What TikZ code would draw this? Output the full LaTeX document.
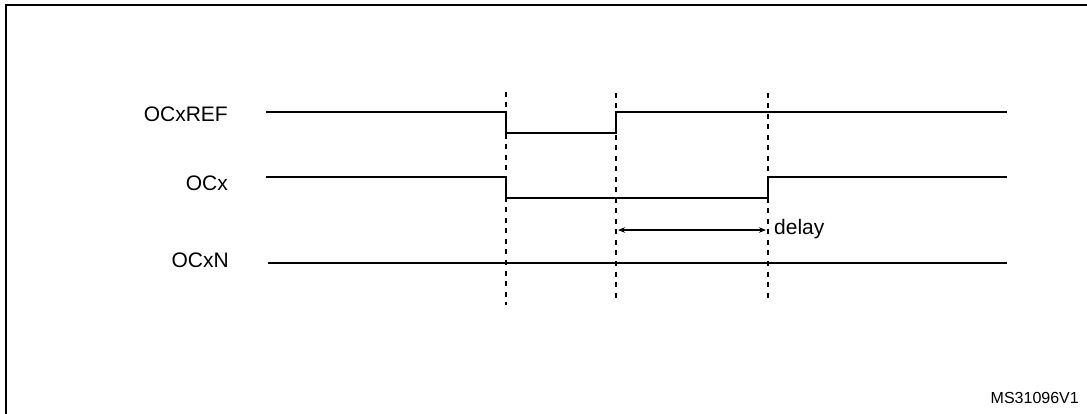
\documentclass[tikz,border=0pt]{standalone}
\usepackage{fontspec}
\setmainfont{Liberation Sans}
\usetikzlibrary{positioning,arrows.meta}

\begin{document}
\begin{tikzpicture}[x=1pt,y=-1pt,>={Stealth[length=7pt,width=5.5pt]},sig/.style={line width=1.4pt},mark line/.style={line width=1.3pt,dash pattern=on 5pt off 5.5pt},label node/.style={anchor=east,inner sep=0pt,font=\fontsize{21}{24}\selectfont}]
            \useasboundingbox (0,0) rectangle (1087,414);
            \draw[line width=2.2pt] (6,420) -- (6,5) -- (1090,5);

            \node[label node] (ref) at (228,114) {OCxREF};
            \node[label node] (ocx) at (228,183) {OCx};
            \node[label node] (ocxn) at (229,260) {OCxN};

            % edges in time
            \coordinate (t1) at (506,92);
            \coordinate (t2) at (616,93);
            \coordinate (t3) at (768,93);
            \draw[mark line] (t1) -- (506,305);
            \draw[mark line] (t2) -- (616,302);
            \draw[mark line] (t3) -- (768,302);

            \draw[sig] (266,112) -- (506,112) -- (506,133) -- (616,133) -- (616,112) -- (1007,112);
            \draw[sig] (266,177) -- (506,177) -- (506,198) -- (768,198) -- (768,177) -- (1007,177);
            \draw[sig] (268,263) -- (1007,263);

            \coordinate (a) at (618,230);
            \coordinate (b) at (766,230);
            \draw[<->,line width=1.2pt] (a) -- (b);
            \node[anchor=west,inner sep=0pt,font=\fontsize{21}{24}\selectfont] (delay) at (774,229) {delay};

            \node[anchor=east,inner sep=0pt,font=\fontsize{16}{18}\selectfont] (id) at (1079,398) {MS31096V1};
        \end{tikzpicture}
\end{document}
